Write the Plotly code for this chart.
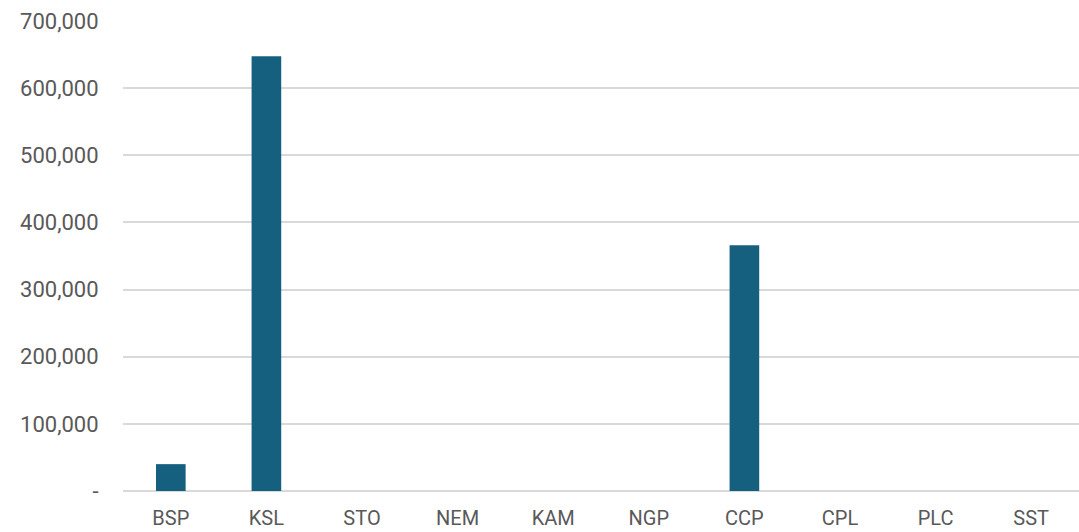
import plotly.graph_objects as go

categories = ["BSP", "KSL", "STO", "NEM", "KAM", "NGP", "CCP", "CPL", "PLC", "SST"]
values = [40000, 647500, 0, 0, 0, 0, 366000, 0, 0, 0]

tick_vals = [0, 100000, 200000, 300000, 400000, 500000, 600000, 700000]
tick_text = ["-", "100,000", "200,000", "300,000", "400,000", "500,000", "600,000", "700,000"]

fig = go.Figure(
    go.Bar(
        x=categories,
        y=values,
        marker=dict(color="#16607f", line=dict(width=0)),
        width=0.31,
    )
)

fig.update_layout(
    width=1079,
    height=532,
    margin=dict(l=123, r=0, t=21, b=41),
    paper_bgcolor="white",
    plot_bgcolor="white",
    showlegend=False,
    font=dict(family="Roboto", size=22, color="#595959"),
)

fig.update_xaxes(
    automargin=False,
    showgrid=False,
    showline=False,
    ticks="outside",
    ticklen=9,
    tickcolor="rgba(0,0,0,0)",
    tickfont=dict(size=20, color="#595959"),
)

fig.update_yaxes(
    automargin=False,
    range=[0, 700000],
    tickvals=tick_vals,
    ticktext=tick_text,
    showgrid=True,
    gridcolor="#d9d9d9",
    gridwidth=1.5,
    zeroline=True,
    zerolinecolor="#d9d9d9",
    zerolinewidth=1.5,
    ticks="outside",
    ticklen=19,
    tickcolor="rgba(0,0,0,0)",
    tickfont=dict(size=22, color="#595959"),
)

fig.write_html("out.html")
